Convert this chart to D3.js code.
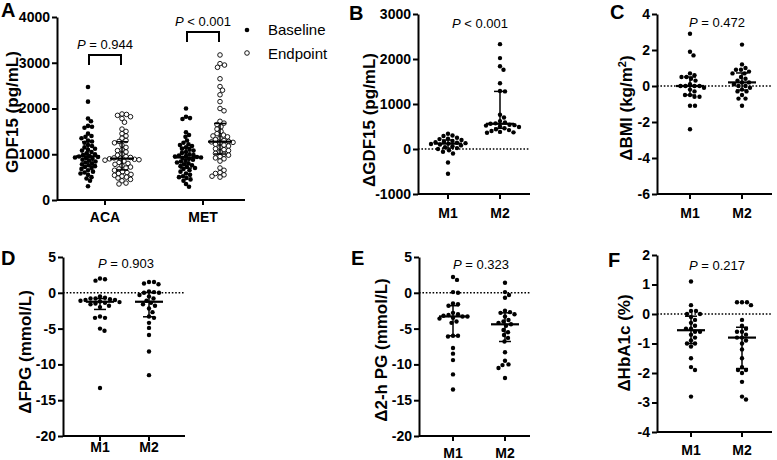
<!DOCTYPE html>
<html><head><meta charset="utf-8">
<script src="https://cdn.jsdelivr.net/npm/d3@7"></script>
<style>body{margin:0;background:#fff}svg{display:block}text{font-family:"Liberation Sans",Arial,sans-serif}</style>
</head><body><div id="chart"></div>
<script>
// ---------- DATA ----------
const groupsA = ["ACA", "MET"];
const timepoints = ["Baseline", "Endpoint"];
const acaBaseline = [2470,2150,1780,1720,1620,1600,1580,1450,1400,1380,1350,1300,1280,1250,1200,1180,1150,1120,1100,1080,1050,1020,1000,980,960,950,940,930,920,900,880,860,840,820,800,780,760,740,720,700,680,650,620,600,580,550,500,470,420,300];
const acaEndpoint = [1880,1870,1850,1820,1780,1700,1550,1500,1450,1400,1350,1300,1280,1250,1200,1150,1100,1080,1050,1000,980,950,930,920,910,900,890,880,870,850,820,800,780,750,720,700,680,650,620,600,580,560,540,520,500,480,450,420,370,350];
const metBaseline = [2000,1820,1790,1770,1480,1420,1380,1300,1250,1220,1200,1180,1150,1120,1100,1080,1050,1030,1000,980,970,960,950,940,930,920,900,880,860,840,820,800,780,760,740,720,700,680,650,620,580,550,520,500,480,450,420,350,290];
const metEndpoint = [3170,2980,2950,2900,2650,2480,2400,2300,2150,2000,1950,1720,1680,1650,1600,1550,1500,1450,1420,1400,1380,1350,1320,1300,1280,1270,1260,1250,1220,1200,1180,1150,1120,1100,1080,1050,1020,1000,980,950,920,900,850,700,650,600,580,550,520,500];
const groupsM = ["M1", "M2"];
const gdf15M1 = [340,300,290,250,230,220,200,180,160,150,140,130,120,110,100,80,60,40,20,0,-30,-60,-100,-300,-550];
const gdf15M2 = [2330,2020,1840,1760,1460,1290,1280,760,700,620,590,570,560,540,530,520,500,490,460,440,420,400,380,370,360];
const bmiM1 = [2.9,1.9,1.7,0.7,0.6,0.5,0.5,0.4,0.3,0.1,0.0,0.0,0.0,0.0,-0.1,-0.2,-0.3,-0.5,-0.5,-0.6,-0.6,-1.1,-1.1,-2.4];
const bmiM2 = [2.3,1.2,1.0,0.9,0.9,0.8,0.7,0.7,0.5,0.4,0.3,0.2,0.2,0.1,0.0,0.0,-0.1,-0.2,-0.3,-0.3,-0.5,-0.7,-0.7,-1.1];
const fpgM1 = [2.0,1.9,1.7,-0.5,-0.7,-0.8,-0.8,-0.9,-1.0,-1.0,-1.1,-1.2,-1.3,-1.4,-1.5,-1.6,-1.8,-2.0,-3.3,-3.5,-3.5,-5.0,-5.3,-13.3];
const fpgM2 = [1.5,1.5,1.3,1.2,0.2,0.1,0.0,0.0,-0.3,-0.5,-0.8,-1.1,-1.4,-1.6,-1.8,-2.2,-2.7,-3.3,-3.5,-4.2,-4.9,-5.9,-8.2,-11.5];
const pg2hM1 = [2.2,1.8,0.1,0.0,-1.5,-1.6,-1.8,-2.8,-3.0,-3.1,-3.2,-3.3,-3.3,-3.5,-3.6,-4.0,-4.2,-6.0,-6.0,-6.1,-7.7,-8.5,-9.4,-11.4,-13.5];
const pg2hM2 = [1.4,0.1,-0.3,-0.7,-2.5,-2.7,-2.8,-3.0,-3.3,-3.8,-4.0,-4.2,-4.4,-4.6,-5.2,-5.5,-5.9,-6.3,-6.8,-8.3,-9.5,-10.0,-10.1,-10.5,-11.9];
const hba1cM1 = [1.1,0.3,0.1,0.1,0.0,0.0,-0.1,-0.2,-0.3,-0.4,-0.5,-0.5,-0.6,-0.6,-0.7,-0.8,-0.9,-1.0,-1.0,-1.1,-1.5,-1.8,-1.9,-2.8];
const hba1cM2 = [0.4,0.4,0.4,0.3,-0.2,-0.4,-0.5,-0.6,-0.6,-0.7,-0.8,-0.8,-0.9,-1.0,-1.2,-1.5,-1.8,-1.9,-1.9,-2.0,-2.3,-2.8,-2.9];
const ticksA = [0,1000,2000,3000,4000];
const ticksB = [-1000,0,1000,2000,3000];
const ticksC = [-6,-4,-2,0,2,4];
const ticksD = [-20,-15,-10,-5,0,5];
const ticksE = [-20,-15,-10,-5,0,5];
const ticksF = [-4,-3,-2,-1,0,1,2];
const pTextsA = [["=","0.944"],["<","0.001"]];
const pTexts = {B:["<","0.001"],C:["=","0.472"],D:["=","0.903"],E:["=","0.323"],F:["=","0.217"]};

// ---------- DRAW ----------
const svg = d3.select("#chart").append("svg").attr("width",777).attr("height",460);
const FONT = '"Liberation Sans",Arial,sans-serif';

function swarm(vals, y, diam){
  const pts = vals.map(v=>({v, y:y(v)})).sort((a,b)=>a.y-b.y);
  const placed=[];
  pts.forEach(p=>{
    for(let k=0;k<400;k++){
      const off = (k===0?0:((k%2?1:-1)*Math.ceil(k/2)*0.5));
      let ok=true;
      for(const q of placed){
        const dx=q.x-off, dy=q.y-p.y;
        if(dx*dx+dy*dy < diam*diam){ok=false;break;}
      }
      if(ok){p.x=off;break;}
    }
    placed.push(p);
  });
  return placed;
}

function yAxis(g, y, ticks, x0){
  const ax = g.append("g").attr("transform",`translate(${x0},0)`)
    .call(d3.axisLeft(y).tickValues(ticks).tickSize(5).tickSizeOuter(0).tickPadding(2).tickFormat(d=>String(d)));
  ax.selectAll("path,line").attr("stroke","#000").attr("stroke-width",2);
  ax.selectAll("text").attr("font-family",FONT).attr("font-size",14).attr("font-weight","bold").attr("fill","#000");
  return ax;
}

function errBar(g, cx, vals, y, halfMed, halfCap){
  const s = vals.slice().sort(d3.ascending);
  const med=d3.quantile(s,0.5), q1=d3.quantile(s,0.25), q3=d3.quantile(s,0.75);
  g.append("line").attr("x1",cx).attr("x2",cx).attr("y1",y(q1)).attr("y2",y(q3)).attr("stroke","#000").attr("stroke-width",1.5);
  [q1,q3].forEach(q=>g.append("line").attr("x1",cx-halfCap).attr("x2",cx+halfCap).attr("y1",y(q)).attr("y2",y(q)).attr("stroke","#000").attr("stroke-width",1.5));
  g.append("line").attr("x1",cx-halfMed).attr("x2",cx+halfMed).attr("y1",y(med)).attr("y2",y(med)).attr("stroke","#000").attr("stroke-width",2.2);
}

function pLabel(g, cx, base, sym, val){
  const t=g.append("text").attr("x",cx).attr("y",base).attr("text-anchor","middle")
    .attr("font-family",FONT).attr("font-size",13).attr("fill","#000");
  t.append("tspan").attr("font-style","italic").text("P");
  t.append("tspan").text(` ${sym} ${val}`);
}

function yTitle(g, x, yc, parts){
  const t=g.append("text").attr("transform",`translate(${x},${yc}) rotate(-90)`).attr("text-anchor","middle")
    .attr("font-family",FONT).attr("font-size",17).attr("font-weight","bold").attr("fill","#000").attr("dy","0.35em");
  parts.forEach(p=>{
    const ts=t.append("tspan").text(p.t);
    if(p.sup){ts.attr("font-size",11).attr("baseline-shift","super");}
  });
}

function panelLetter(x,y,l){
  svg.append("text").attr("x",x).attr("y",y).attr("font-family",FONT).attr("font-size",20).attr("font-weight","bold").text(l);
}

// ---- Panel A ----
{
  const g=svg.append("g");
  const x0=57,x1=245, y=d3.scaleLinear().domain([0,4000]).range([200,17]);
  const xg=d3.scalePoint().domain(groupsA).range([105,203]);
  const xt=d3.scalePoint().domain(timepoints).range([-17,17]);
  const sets=[[acaBaseline,acaEndpoint],[metBaseline,metEndpoint]];
  groupsA.forEach((grp,i)=>{
    timepoints.forEach((tp,j)=>{
      const cx=xg(grp)+xt(tp);
      const pts=swarm(sets[i][j],y,j===0?3.8:4.3);
      if(j===0){
        g.selectAll(null).data(pts).enter().append("circle").attr("cx",d=>cx+d.x).attr("cy",d=>d.y).attr("r",2.3).attr("fill","#000");
      } else {
        g.selectAll(null).data(pts).enter().append("circle").attr("cx",d=>cx+d.x).attr("cy",d=>d.y).attr("r",2.3).attr("fill","#fff").attr("stroke","#000").attr("stroke-width",0.9);
      }
      errBar(g,cx,sets[i][j],y,12,6);
    });
  });
  yAxis(g,y,ticksA,x0);
  g.append("line").attr("x1",x0).attr("x2",x1).attr("y1",200).attr("y2",200).attr("stroke","#000").attr("stroke-width",2);
  groupsA.forEach(grp=>{
    g.append("line").attr("x1",xg(grp)).attr("x2",xg(grp)).attr("y1",200).attr("y2",205).attr("stroke","#000").attr("stroke-width",2);
    g.append("text").attr("x",xg(grp)).attr("y",222).attr("text-anchor","middle").attr("font-family",FONT).attr("font-size",14).attr("font-weight","bold").text(grp);
  });
  // brackets
  const br=[[55,10,50],[32,10,27]];
  groupsA.forEach((grp,i)=>{
    const a=xg(grp)+xt("Baseline")+1,b=xg(grp)+xt("Endpoint")-1,top=br[i][0];
    g.append("path").attr("d",`M${a},${top+br[i][1]}V${top}H${b}V${top+br[i][1]}`).attr("fill","none").attr("stroke","#000").attr("stroke-width",2);
    pLabel(g,xg(grp),br[i][2]-1,pTextsA[i][0],pTextsA[i][1]);
  });
  yTitle(g,12,112,[{t:"GDF15 (pg/mL)"}]);
  // legend
  g.append("circle").attr("cx",247).attr("cy",30).attr("r",2.3).attr("fill","#000");
  g.append("circle").attr("cx",247).attr("cy",53).attr("r",2.3).attr("fill","#fff").attr("stroke","#000").attr("stroke-width",0.9);
  g.append("text").attr("x",268).attr("y",35).attr("font-family",FONT).attr("font-size",15).text(timepoints[0]);
  g.append("text").attr("x",268).attr("y",59).attr("font-family",FONT).attr("font-size",15).text(timepoints[1]);
  panelLetter(1,17,"A");
}

// ---- Panels B-F ----
const panels=[
  {k:"B",d:[gdf15M1,gdf15M2],dom:[-1000,3000],ticks:ticksB,x0:418,x1:530,yT:14,yB:194,cx:[448,500],lab:218,title:[{t:"ΔGDF15 (pg/mL)"}],tx:369,ty:120,px:480,py:28,lx:349,ly:20},
  {k:"C",d:[bmiM1,bmiM2],dom:[-6,4],ticks:ticksC,x0:657,x1:772,yT:14,yB:194,cx:[690,742],lab:218,title:[{t:"ΔBMI (kg/m"},{t:"2",sup:true},{t:")"}],tx:626,ty:108,px:717,py:27,lx:610,ly:19},
  {k:"D",d:[fpgM1,fpgM2],dom:[-20,5],ticks:ticksD,x0:63,x1:185,yT:257,yB:436,cx:[100,149],lab:452,title:[{t:"ΔFPG (mmol/L)"}],tx:25,ty:352,px:126,py:268,lx:1,ly:265},
  {k:"E",d:[pg2hM1,pg2hM2],dom:[-20,5],ticks:ticksE,x0:419,x1:530,yT:257,yB:436,cx:[453,505],lab:458,title:[{t:"Δ2-h PG (mmol/L)"}],tx:381,ty:350,px:481,py:269,lx:351,ly:265},
  {k:"F",d:[hba1cM1,hba1cM2],dom:[-4,2],ticks:ticksF,x0:657,x1:772,yT:255,yB:432,cx:[691,742],lab:455,title:[{t:"ΔHbA1c (%)"}],tx:624,ty:343,px:717,py:270,lx:608,ly:267}
];
panels.forEach(P=>{
  const g=svg.append("g");
  const y=d3.scaleLinear().domain(P.dom).range([P.yB,P.yT]);
  const x=d3.scalePoint().domain(groupsM).range(P.cx);
  // dotted zero line
  g.append("line").attr("x1",P.x0).attr("x2",P.x1).attr("y1",y(0)).attr("y2",y(0)).attr("stroke","#000").attr("stroke-width",1.6).attr("stroke-dasharray","1.6,1.8");
  groupsM.forEach((grp,i)=>{
    const cx=x(grp);
    const pts=swarm(P.d[i],y,4.8);
    g.selectAll(null).data(pts).enter().append("circle").attr("cx",d=>cx+d.x).attr("cy",d=>d.y).attr("r",2.2).attr("fill","#000");
    errBar(g,cx,P.d[i],y,14,6);
    g.append("line").attr("x1",cx).attr("x2",cx).attr("y1",P.yB).attr("y2",P.yB+5).attr("stroke","#000").attr("stroke-width",2);
    g.append("text").attr("x",cx).attr("y",P.lab).attr("text-anchor","middle").attr("font-family",FONT).attr("font-size",14).attr("font-weight","bold").text(grp);
  });
  yAxis(g,y,P.ticks,P.x0);
  g.append("line").attr("x1",P.x0).attr("x2",P.x1).attr("y1",P.yB).attr("y2",P.yB).attr("stroke","#000").attr("stroke-width",2);
  pLabel(g,P.px,P.py,pTexts[P.k][0],pTexts[P.k][1]);
  yTitle(g,P.tx,P.ty,P.title);
  panelLetter(P.lx,P.ly,P.k);
});
</script></body></html>
